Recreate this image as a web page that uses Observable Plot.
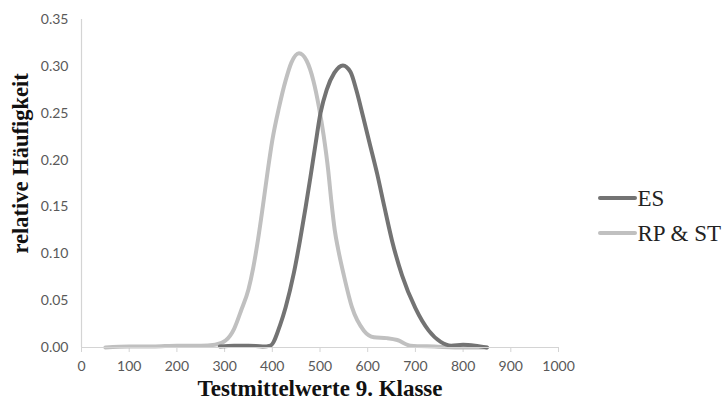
<!DOCTYPE html>
<html>
<head>
<meta charset="utf-8">
<script src="https://cdn.jsdelivr.net/npm/d3@7"></script>
<script src="https://cdn.jsdelivr.net/npm/@observablehq/plot@0.6"></script>
<style>
  html, body { margin: 0; padding: 0; background: #fff; }
  #chart { position: relative; width: 724px; height: 408px; }
</style>
</head>
<body>
<div id="chart"></div>
<script>
const seriesNames = ["ES", "RP & ST"];
const seriesColors = ["#737373", "#c0c0c0"];

const esX = [290, 320, 350, 380, 396, 417, 428, 445, 458, 470, 480, 490, 501, 514, 530, 548, 564, 576, 590, 604, 620, 635, 651, 672, 700, 728, 753, 775, 800, 825, 850];
const esY = [0.001, 0.002, 0.002, 0.001, 0.002, 0.025, 0.043, 0.079, 0.114, 0.150, 0.182, 0.215, 0.250, 0.275, 0.293, 0.301, 0.294, 0.275, 0.247, 0.218, 0.185, 0.150, 0.114, 0.077, 0.042, 0.018, 0.006, 0.002, 0.003, 0.002, 0.000];

const rpX = [50, 100, 150, 200, 250, 280, 302, 320, 335, 350, 360, 370, 380, 390, 400, 414, 428, 440, 456, 472, 486, 498, 508, 517, 524, 531, 538, 550, 567, 592, 613, 640, 662, 690, 740, 800, 850];
const rpY = [0.000, 0.001, 0.001, 0.002, 0.002, 0.003, 0.0075, 0.020, 0.040, 0.062, 0.085, 0.115, 0.150, 0.187, 0.221, 0.256, 0.285, 0.304, 0.314, 0.306, 0.285, 0.256, 0.225, 0.190, 0.155, 0.125, 0.105, 0.077, 0.043, 0.018, 0.011, 0.010, 0.008, 0.002, 0.001, 0.000, 0.000];

const xTicks = [0, 100, 200, 300, 400, 500, 600, 700, 800, 900, 1000];
const yTicks = [0, 0.05, 0.10, 0.15, 0.20, 0.25, 0.30, 0.35];
const xTitle = "Testmittelwerte 9. Klasse";
const yTitle = "relative Häufigkeit";

const es = esX.map((x, i) => ({x, y: esY[i], s: seriesNames[0]}));
const rp = rpX.map((x, i) => ({x, y: rpY[i], s: seriesNames[1]}));
const legendRows = seriesNames.map((name, i) => ({name, i}));

const tickFont = "Lato, 'Open Sans', sans-serif";
const titleFont = "'Liberation Serif', 'DejaVu Serif', serif";

const plot = Plot.plot({
  width: 724,
  height: 408,
  marginLeft: 81,
  marginRight: 166,
  marginTop: 19,
  marginBottom: 61,
  style: {fontFamily: tickFont, fontSize: "14px", color: "#595959", background: "#fff"},
  x: {domain: [0, 1000]},
  y: {domain: [0, 0.35]},
  color: {domain: seriesNames, range: seriesColors},
  marks: [
    Plot.ruleX([0], {y1: 0, y2: 0.35, stroke: "#d4d4d4", strokeWidth: 1.2}),
    Plot.axisX({ticks: xTicks, tickSize: 5, tickPadding: 9, stroke: "#d4d4d4", fill: "#595959", label: null, tickFormat: d3.format("d"), fontSize: 14}),
    Plot.axisY({ticks: yTicks, tickSize: 0, tickPadding: 13, fill: "#595959", label: null, tickFormat: d3.format(".2f"), fontSize: 14}),
    Plot.line(rp, {x: "x", y: "y", stroke: "s", strokeWidth: 4, curve: "monotone-x"}),
    Plot.line(es, {x: "x", y: "y", stroke: "s", strokeWidth: 4, curve: "monotone-x"}),
    Plot.ruleY([0], {x1: 0, x2: 1000, stroke: "#d4d4d4", strokeWidth: 1.2}),
    Plot.text([xTitle], {frameAnchor: "bottom", dy: 48, text: d => d, fontFamily: titleFont, fontWeight: "bold", fontSize: 23, fill: "#111"}),
    Plot.text([yTitle], {frameAnchor: "left", dx: -61, dy: 70, rotate: -90, text: d => d, fontFamily: titleFont, fontWeight: "bold", fontSize: 22.5, fill: "#111"}),
    ...legendRows.map(r => Plot.text([r.name], {frameAnchor: "top-left", dx: 556, dy: 179 + r.i * 35, text: d => d, textAnchor: "start", lineAnchor: "middle", fontFamily: titleFont, fontSize: 23, fill: "#222"}))
  ]
});

document.getElementById("chart").appendChild(plot);

const svg = d3.select(plot);
const legend = svg.append("g");
legendRows.forEach(r => {
  const yy = 198 + r.i * 35;
  legend.append("line").attr("x1", 600).attr("x2", 635).attr("y1", yy).attr("y2", yy)
    .attr("stroke", seriesColors[r.i]).attr("stroke-width", 4).attr("stroke-linecap", "round");
});
</script>
</body>
</html>
